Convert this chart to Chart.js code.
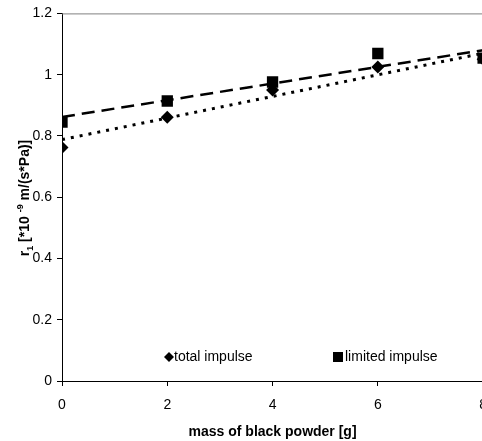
<!DOCTYPE html>
<html>
<head>
<meta charset="utf-8">
<script src="https://cdn.jsdelivr.net/npm/chart.js@4"></script>
<style>
  html, body { margin: 0; padding: 0; background: #fff; overflow: hidden; }
  #wrap { width: 482px; height: 441px; overflow: hidden; }
</style>
</head>
<body>
<div id="wrap"><canvas id="chart" width="498" height="441"></canvas></div>
<script>
const massX = [0, 2, 4, 6, 8];
const totalImpulse = [0.762, 0.861, 0.95, 1.025, 1.05];
const limitedImpulse = [0.845, 0.914, 0.976, 1.069, 1.054];

// trendline ends
const trendX = [0, 8];
const totalTrend = [0.788, 1.07];
const limitedTrend = [0.862, 1.08];

const yTicks = [0, 0.2, 0.4, 0.6, 0.8, 1, 1.2];
const xTicks = [0, 2, 4, 6, 8];

const FONT = "'Liberation Sans', Arial, sans-serif";

const toPts = (xs, ys) => xs.map((x, i) => ({ x: x, y: ys[i] }));

// top border + y title + legend
const extras = {
    id: 'extras',
    beforeDatasetsDraw(chart) {
        const { ctx, chartArea: a } = chart;
        ctx.save();
        ctx.strokeStyle = '#808080';
        ctx.lineWidth = 1;
        ctx.beginPath();
        ctx.moveTo(a.left, a.top + 0.5);
        ctx.lineTo(a.right, a.top + 0.5);
        ctx.lineTo(a.right, a.bottom);
        ctx.stroke();
        ctx.restore();
    },
    afterDraw(chart) {
        const ctx = chart.ctx;
        ctx.save();
        // y axis title: r1 [*10 -9 m/(s*Pa)]
        const parts = [
            { t: 'r', f: 'bold 14px ' + FONT, dy: 0 },
            { t: '1', f: 'bold 9px ' + FONT, dy: 4 },
            { t: ' [*10 ', f: 'bold 14px ' + FONT, dy: 0 },
            { t: '-9', f: 'bold 9px ' + FONT, dy: -6 },
            { t: ' m/(s*Pa)]', f: 'bold 14px ' + FONT, dy: 0 }
        ];
        let total = 0;
        parts.forEach(p => { ctx.font = p.f; p.w = ctx.measureText(p.t).width; total += p.w; });
        ctx.translate(29, 198);
        ctx.rotate(-Math.PI / 2);
        ctx.fillStyle = '#000';
        ctx.textBaseline = 'alphabetic';
        let x = -total / 2;
        parts.forEach(p => { ctx.font = p.f; ctx.fillText(p.t, x, p.dy); x += p.w; });
        ctx.restore();

        // legend
        ctx.save();
        ctx.fillStyle = '#000';
        ctx.font = '14px ' + FONT;
        ctx.textBaseline = 'middle';
        const ly = 357;
        ctx.beginPath();
        ctx.moveTo(169, ly - 5); ctx.lineTo(174, ly); ctx.lineTo(169, ly + 5); ctx.lineTo(164, ly);
        ctx.closePath();
        ctx.fill();
        ctx.fillText('total impulse', 174, ly);
        ctx.fillRect(333, ly - 5, 10, 10);
        ctx.fillText('limited impulse', 345, ly);
        ctx.restore();
    }
};

new Chart(document.getElementById('chart'), {
    type: 'scatter',
    data: {
        datasets: [
            {
                label: 'total impulse',
                data: toPts(massX, totalImpulse),
                pointStyle: 'rectRot',
                pointRadius: 6.5,
                pointHoverRadius: 6.5,
                backgroundColor: '#000',
                borderColor: '#000',
                borderWidth: 0,
                showLine: false,
                order: 1
            },
            {
                label: 'limited impulse',
                data: toPts(massX, limitedImpulse),
                pointStyle: 'rect',
                pointRadius: 8,
                pointHoverRadius: 8,
                backgroundColor: '#000',
                borderColor: '#000',
                borderWidth: 0,
                showLine: false,
                order: 1
            },
            {
                label: 'trend total',
                data: toPts(trendX, totalTrend),
                showLine: true,
                pointRadius: 0,
                borderColor: '#000',
                borderWidth: 3,
                borderDash: [3, 6],
                order: 2
            },
            {
                label: 'trend limited',
                data: toPts(trendX, limitedTrend),
                showLine: true,
                pointRadius: 0,
                borderColor: '#000',
                borderWidth: 2.5,
                borderDash: [13, 7],
                order: 2
            }
        ]
    },
    options: {
        responsive: false,
        animation: false,
        devicePixelRatio: 1,
        layout: { padding: { top: 11, right: 7, left: 0, bottom: 0 } },
        plugins: { legend: { display: false }, tooltip: { enabled: false } },
        scales: {
            x: {
                type: 'linear',
                min: 0, max: 8,
                afterBuildTicks: s => { s.ticks = xTicks.map(v => ({ value: v })); },
                afterFit: s => { s.height = 60; },
                grid: { drawOnChartArea: false, drawTicks: true, tickLength: 5, color: '#000' },
                border: { display: true, color: '#000', width: 1 },
                ticks: { color: '#000', font: { family: FONT, size: 14 }, padding: 11, maxRotation: 0 },
                title: {
                    display: true,
                    text: 'mass of black powder [g]',
                    color: '#000',
                    font: { family: FONT, size: 14, weight: 'bold' },
                    padding: { top: 6, bottom: 0 }
                }
            },
            y: {
                type: 'linear',
                min: 0, max: 1.2,
                afterBuildTicks: s => { s.ticks = yTicks.map(v => ({ value: v })); },
                afterFit: s => { s.width = 62; },
                grid: { drawOnChartArea: false, drawTicks: true, tickLength: 5, color: '#000' },
                border: { display: true, color: '#000', width: 1 },
                ticks: {
                    color: '#000',
                    font: { family: FONT, size: 14 },
                    padding: 5,
                    callback: v => String(Math.round(v * 10) / 10)
                }
            }
        }
    },
    plugins: [extras]
});
</script>
</body>
</html>
